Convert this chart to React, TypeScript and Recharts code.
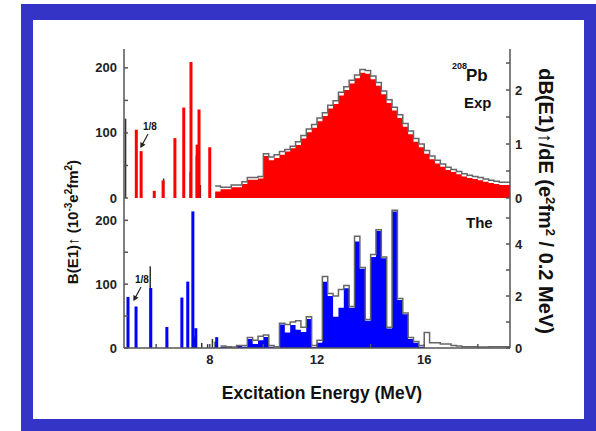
import React from 'react'
import { Area, Bar, ComposedChart, Line, XAxis, YAxis } from 'recharts'

// 208Pb E1 strength: discrete states (left axis, 1e-3 e2fm2) and
// 0.2 MeV binned strength (right axis, e2fm2 / 0.2 MeV)

// experiment, discrete states
const expStickE = [5.26, 5.44, 5.93, 6.26, 6.7, 7.03, 7.3, 7.53, 7.6, 8.0]
const expStickB = [105, 72, 11, 27, 92, 139, 209, 82, 136, 78]
const expAuxE = [4.86, 6.28, 7.27, 7.5, 7.65]
const expAuxB = [122, 30, 40, 65, 20]

// experiment, binned (left edges; the last entry closes the final bin)
const expBinE = [
  8.2, 8.4, 8.6, 8.8, 9.0, 9.2, 9.4, 9.6, 9.8, 10.0, 10.2, 10.4, 10.6, 10.8,
  11.0, 11.2, 11.4, 11.6, 11.8, 12.0, 12.2, 12.4, 12.6, 12.8, 13.0, 13.2, 13.4,
  13.6, 13.8, 14.0, 14.2, 14.4, 14.6, 14.8, 15.0, 15.2, 15.4, 15.6, 15.8, 16.0,
  16.2, 16.4, 16.6, 16.8, 17.0, 17.2, 17.4, 17.6, 17.8, 18.0, 18.2, 18.4, 18.6,
  18.8, 19.0, 19.2
]
const expBinV = [
  0.12, 0.16, 0.16, 0.2, 0.2, 0.26, 0.34, 0.34, 0.36, 0.78, 0.7, 0.74, 0.8,
  0.86, 0.92, 0.98, 1.1, 1.22, 1.3, 1.42, 1.52, 1.66, 1.74, 1.9, 2.0, 2.12,
  2.22, 2.32, 2.3, 2.2, 2.08, 1.92, 1.76, 1.62, 1.48, 1.32, 1.18, 1.04, 0.94,
  0.82, 0.72, 0.64, 0.58, 0.52, 0.48, 0.44, 0.4, 0.37, 0.35, 0.33, 0.3, 0.28,
  0.26, 0.24, 0.24, 0.24
]
const expBinHi = [
  0.22, 0.2, 0.2, 0.24, 0.24, 0.3, 0.38, 0.38, 0.4, 0.82, 0.76, 0.8, 0.86, 0.9,
  0.96, 1.04, 1.16, 1.28, 1.36, 1.48, 1.58, 1.72, 1.8, 1.96, 2.06, 2.18, 2.28,
  2.38, 2.36, 2.26, 2.14, 1.98, 1.82, 1.68, 1.54, 1.38, 1.24, 1.1, 1.0, 0.88,
  0.78, 0.7, 0.63, 0.57, 0.53, 0.49, 0.45, 0.42, 0.4, 0.38, 0.35, 0.33, 0.31,
  0.29, 0.29, 0.29
]

// theory, discrete states
const theStickE = [4.95, 5.25, 5.8, 6.4, 6.96, 7.18, 7.37, 7.48, 8.26]
const theStickB = [80, 65, 94, 33, 79, 104, 214, 31, 17]
const theAuxE = [5.78, 6.42, 7.42, 7.7, 7.92, 8.1, 8.2]
const theAuxB = [128, 12, 18, 8, 6, 14, 10]

// theory, binned
const theBinE = [
  8.4, 8.6, 8.8, 9.0, 9.2, 9.4, 9.6, 9.8, 10.0, 10.2, 10.4, 10.6, 10.8, 11.0,
  11.2, 11.4, 11.6, 11.8, 12.0, 12.2, 12.4, 12.6, 12.8, 13.0, 13.2, 13.4, 13.6,
  13.8, 14.0, 14.2, 14.4, 14.6, 14.8, 15.0, 15.2, 15.4, 15.6, 15.8, 16.0, 16.2,
  16.4, 16.6, 16.8, 17.0, 17.2, 17.4, 17.6, 17.8, 18.0, 18.2, 18.4, 18.6, 18.8,
  19.0, 19.2
]
const theBinV = [
  0.05, 0.02, 0, 0.08, 0.05, 0.35, 0.15, 0.3, 0.42, 0.05, 0, 0.9, 0.6, 0.88,
  0.7, 0.62, 1.12, 0.04, 0.2, 2.55, 2.0, 1.2, 1.55, 2.3, 1.55, 4.1, 3.05, 1.05,
  3.5, 4.5, 3.45, 0.75, 5.25, 1.85, 1.3, 0.35, 0.2, 0.05, 0, 0, 0, 0, 0, 0, 0,
  0, 0, 0, 0, 0, 0, 0, 0, 0, 0
]
const theBinHi = [
  0.08, 0.05, 0.04, 0.1, 0.1, 0.4, 0.3, 0.45, 0.5, 0.1, 0.05, 0.95, 0.9, 1.0,
  1.05, 0.8, 1.2, 0.1, 0.3, 2.75, 2.1, 2.0, 2.25, 2.4, 1.6, 4.3, 3.1, 1.1, 3.6,
  4.55, 3.5, 0.8, 5.3, 1.9, 1.35, 0.4, 0.25, 0.1, 0.6, 0.2, 0.2, 0.15, 0.15,
  0.1, 0.08, 0.05, 0.05, 0.05, 0.04, 0.04, 0.05, 0.05, 0.05, 0.05, 0.05
]

const energyTicks = [6, 8, 10, 12, 14, 16, 18]
const energyLabels = [8, 12, 16]
const strengthTicks = [0, 50, 100, 150, 200]
const expDensityTicks = [0, 0.5, 1, 1.5, 2, 2.5]
const theDensityTicks = [0, 1, 2, 3, 4, 5]

const FONT = '"Liberation Sans", Arial, Helvetica, sans-serif'
const AXIS = { stroke: '#555', strokeWidth: 1.5 }
const DOMAIN: [number, number] = [4.8, 19.2]

type Row = { e: number; stick?: number; aux?: number; hist?: number; hi?: number }

function buildRows(
  stickE: number[], stickB: number[], auxE: number[], auxB: number[],
  binE: number[], binV: number[], binHi: number[]
): Row[] {
  const rows: Row[] = []
  stickE.forEach((e, i) => rows.push({ e, stick: stickB[i] }))
  auxE.forEach((e, i) => rows.push({ e, aux: auxB[i] }))
  binE.forEach((e, i) => rows.push({ e, hist: binV[i], hi: binHi[i] }))
  return rows.sort((a, b) => a.e - b.e)
}

// the states sit very close together, so the band is narrower than a
// visible line: draw a fixed-width stick centred on the band instead
function stickShape(w: number) {
  return (props: any) => {
    const { x, y, width, height, fill } = props
    if (!Number.isFinite(y) || !Number.isFinite(height) || height <= 0) return <g />
    return <rect x={x + width / 2 - w / 2} y={y} width={w} height={height} fill={fill} />
  }
}

// tick label with only selected values written out
function tickText(show: (v: number) => boolean, anchor: 'start' | 'middle' | 'end', dy: number) {
  return (props: any) => {
    const { x, y, payload } = props
    const v = payload?.value
    if (v == null || !show(v)) return <g />
    return (
      <text x={x} y={y + dy} textAnchor={anchor} fontSize={13} fontWeight={700} fill="#222" fontFamily={FONT}>
        {String(v)}
      </text>
    )
  }
}

interface PanelProps {
  rows: Row[]
  top: number
  height: number
  color: string
  leftMax: number
  rightMax: number
  rightTicks: number[]
  rightShow: (v: number) => boolean
  showEnergy: boolean
}

function Panel({ rows, top, height, color, leftMax, rightMax, rightTicks, rightShow, showEnergy }: PanelProps) {
  return (
    <div style={{ position: 'absolute', left: 0, top, width: 596, height }}>
      <ComposedChart
        width={596}
        height={height}
        data={rows}
        style={{ overflow: 'visible' }}
        margin={{ top: showEnergy ? 0 : 49, right: 46, bottom: showEnergy ? 0 : 17, left: 84 }}
      >
        <XAxis
          xAxisId="e"
          dataKey="e"
          type="number"
          domain={DOMAIN}
          allowDataOverflow
          ticks={energyTicks}
          interval={0}
          height={showEnergy ? 50 : 0}
          axisLine={AXIS}
          tickLine={showEnergy ? AXIS : false}
          tickSize={-4}
          tickMargin={11}
          tick={showEnergy ? tickText((v) => energyLabels.includes(v), 'middle', 9) : false}
        />
        <XAxis
          xAxisId="top"
          orientation="top"
          dataKey="e"
          type="number"
          domain={DOMAIN}
          allowDataOverflow
          ticks={energyTicks}
          interval={0}
          height={0}
          axisLine={AXIS}
          tickLine={AXIS}
          tickSize={-4}
          tick={false}
        />
        <XAxis xAxisId="aux" dataKey="e" type="number" domain={DOMAIN} allowDataOverflow height={0} hide />
        <XAxis xAxisId="stick" dataKey="e" type="number" domain={DOMAIN} allowDataOverflow height={0} hide />
        <YAxis
          yAxisId="b"
          type="number"
          domain={[0, leftMax]}
          ticks={strengthTicks}
          interval={0}
          width={40}
          axisLine={AXIS}
          tickLine={AXIS}
          tickSize={-4}
          tickMargin={11}
          tick={tickText((v) => v % 100 === 0, 'end', 4.5)}
        />
        <YAxis
          yAxisId="d"
          type="number"
          orientation="right"
          domain={[0, rightMax]}
          ticks={rightTicks}
          interval={0}
          width={40}
          axisLine={AXIS}
          tickLine={AXIS}
          tickSize={-4}
          tickMargin={9}
          tick={tickText(rightShow, 'start', 4.5)}
        />
        <Area
          xAxisId="e"
          yAxisId="d"
          type="stepAfter"
          dataKey="hist"
          fill={color}
          fillOpacity={1}
          stroke="none"
          connectNulls
          dot={false}
          activeDot={false}
          isAnimationActive={false}
        />
        <Line
          xAxisId="e"
          yAxisId="d"
          type="stepAfter"
          dataKey="hi"
          stroke="#666"
          strokeWidth={1.5}
          connectNulls
          dot={false}
          activeDot={false}
          isAnimationActive={false}
        />
        <Bar xAxisId="aux" yAxisId="b" dataKey="aux" fill="#333" barSize={1} shape={stickShape(1.5)} isAnimationActive={false} />
        <Bar xAxisId="stick" yAxisId="b" dataKey="stick" fill={color} barSize={1} shape={stickShape(3)} isAnimationActive={false} />
      </ComposedChart>
    </div>
  )
}

function Arrow({ x1, y1, x2, y2 }: { x1: number; y1: number; x2: number; y2: number }) {
  const a = Math.atan2(y2 - y1, x2 - x1)
  const h = 4
  const p1 = `${x2 - h * Math.cos(a - 0.5)},${y2 - h * Math.sin(a - 0.5)}`
  const p2 = `${x2 - h * Math.cos(a + 0.5)},${y2 - h * Math.sin(a + 0.5)}`
  return (
    <g stroke="#222" fill="#222" strokeWidth={1.2}>
      <line x1={x1} y1={y1} x2={x2} y2={y2} />
      <polygon points={`${x2},${y2} ${p1} ${p2}`} />
    </g>
  )
}

export default function App() {
  const expRows = buildRows(expStickE, expStickB, expAuxE, expAuxB, expBinE, expBinV, expBinHi)
  const theRows = buildRows(theStickE, theStickB, theAuxE, theAuxB, theBinE, theBinV, theBinHi)

  return (
    <div style={{ position: 'absolute', left: 0, top: 0, width: 596, height: 431, background: '#fff', fontFamily: FONT }}>
      {/* blue frame */}
      <div style={{ position: 'absolute', left: 21, top: 4, width: 575, height: 427, background: '#3434c6' }} />
      <div style={{ position: 'absolute', left: 33, top: 20, width: 551, height: 399, background: '#fff' }} />

      <Panel
        rows={theRows}
        top={198}
        height={200}
        color="#0000ff"
        leftMax={235}
        rightMax={5.77}
        rightTicks={theDensityTicks}
        rightShow={(v) => v % 2 === 0}
        showEnergy
      />
      <Panel
        rows={expRows}
        top={0}
        height={215}
        color="#ff0000"
        leftMax={229}
        rightMax={2.76}
        rightTicks={expDensityTicks}
        rightShow={(v) => Number.isInteger(v)}
        showEnergy={false}
      />

      <svg width={596} height={431} style={{ position: 'absolute', left: 0, top: 0, pointerEvents: 'none' }} fontFamily={FONT} fill="#111">
        <text x={322} y={399} textAnchor="middle" fontSize={17.5} fontWeight={700}>
          Excitation Energy (MeV)
        </text>
        <text transform="translate(78,222) rotate(-90)" textAnchor="middle" fontSize={15} fontWeight={700}>
          B(E1)↑ (10<tspan dy={-6} fontSize={10}>-3</tspan>
          <tspan dy={6}>e</tspan>
          <tspan dy={-6} fontSize={10}>2</tspan>
          <tspan dy={6}>fm</tspan>
          <tspan dy={-6} fontSize={10}>2</tspan>
          <tspan dy={6}>)</tspan>
        </text>
        <text transform="translate(539,201) rotate(90)" textAnchor="middle" fontSize={20} fontWeight={700}>
          dB(E1)↑/dE (e<tspan dy={-7} fontSize={13}>2</tspan>
          <tspan dy={7}>fm</tspan>
          <tspan dy={-7} fontSize={13}>2</tspan>
          <tspan dy={7}> / 0.2 MeV)</tspan>
        </text>

        <text x={452} y={69} fontSize={9} fontWeight={700}>208</text>
        <text x={466} y={81} fontSize={17} fontWeight={700}>Pb</text>
        <text x={464} y={108} fontSize={15} fontWeight={700}>Exp</text>
        <text x={466} y={228} fontSize={15} fontWeight={700}>The</text>

        <text x={143} y={130} fontSize={10} fontWeight={700}>1/8</text>
        <Arrow x1={148} y1={134} x2={141} y2={147} />
        <text x={135} y={283} fontSize={10} fontWeight={700}>1/8</text>
        <Arrow x1={141} y1={287} x2={134} y2={300} />
      </svg>
    </div>
  )
}
